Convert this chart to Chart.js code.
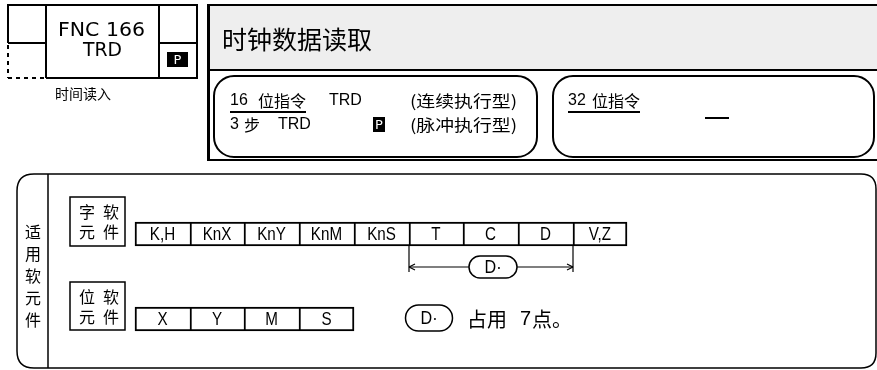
<!DOCTYPE html>
<html>
<head>
<meta charset="utf-8">
<script src="https://cdn.jsdelivr.net/npm/chart.js@4"></script>
<style>
  html, body { margin: 0; padding: 0; background: #fff; }
  #chart { display: block; }
</style>
</head>
<body>
<canvas id="chart" width="877" height="370"></canvas>
<script>
// instruction header
const instrNo = 'FNC 166';
const instrName = 'TRD';
const instrCaption = '时间读入';
const instrTitle = '时钟数据读取';
const line16 = ['16', '位指令', 'TRD', '(连续执行型)'];
const line16p = ['3', '步', 'TRD', '(脉冲执行型)'];
const line32 = ['32', '位指令', '—'];

// applicable devices
const sideLabel = ['适', '用', '软', '元', '件'];
const wordLabel = [['字', '软'], ['元', '件']];
const bitLabel = [['位', '软'], ['元', '件']];
const wordDevices = ['K,H', 'KnX', 'KnY', 'KnM', 'KnS', 'T', 'C', 'D', 'V,Z'];
const bitDevices = ['X', 'Y', 'M', 'S'];
const operandDevices = ['T', 'C', 'D'];
const operandLabel = 'D·';
const operandNote = ['占用', '7', '点。'];

// layout
const ROW_LEFT = 135;
const CELL_W = 54.7;
const ROW_H = 24;
const WORD_Y = 234;
const BIT_Y = 319;

const CJK = '"Noto Sans CJK SC", sans-serif';
const LATIN = '"DejaVu Sans", "Noto Sans CJK SC", sans-serif';
const ARIAL = '"Liberation Sans", Arial, sans-serif';

// one floating bar per device cell, laid out left to right
const cellBars = (devices, y) => devices.map((d, i) => ({
    x: [Math.round(ROW_LEFT + i * CELL_W), Math.round(ROW_LEFT + (i + 1) * CELL_W)],
    y: y
}));

const line = (ctx, x1, y1, x2, y2) => {
    ctx.beginPath();
    ctx.moveTo(x1, y1);
    ctx.lineTo(x2, y2);
    ctx.stroke();
};

const text = (ctx, s, x, y, font, align) => {
    ctx.font = font;
    ctx.textAlign = align || 'left';
    ctx.textBaseline = 'middle';
    ctx.fillText(s, x, y);
    return ctx.measureText(s).width;
};

// text stretched or squeezed to span a given width
const fitText = (ctx, s, x, y, font, width) => {
    ctx.font = font;
    const w = ctx.measureText(s).width;
    ctx.save();
    ctx.translate(x, y);
    ctx.scale(width / w, 1);
    text(ctx, s, 0, 0, font);
    ctx.restore();
};

// squeezed text for the narrow device labels
const narrow = (ctx, s, cx, cy, size, sx) => {
    ctx.save();
    ctx.translate(cx, cy);
    ctx.scale(sx, 1);
    text(ctx, s, 0, 0, size + 'px ' + ARIAL, 'center');
    ctx.restore();
};

const pill = (ctx, cx, cy, w, h) => {
    ctx.beginPath();
    ctx.roundRect(cx - w / 2, cy - h / 2, w, h, h / 2);
    ctx.fillStyle = '#fff';
    ctx.fill();
    ctx.stroke();
    ctx.fillStyle = '#000';
    narrow(ctx, operandLabel, cx, cy + 1, 19, 0.85);
};

const pBox = (ctx, x, y, w, h) => {
    ctx.fillStyle = '#000';
    ctx.fillRect(x, y, w, h);
    ctx.fillStyle = '#fff';
    text(ctx, 'P', x + w / 2, y + h / 2 + 1, (h - 2) + 'px "DejaVu Sans", sans-serif', 'center');
    ctx.fillStyle = '#000';
};

function drawHeader(ctx) {
    ctx.strokeStyle = '#000';
    ctx.fillStyle = '#000';

    // FNC box
    ctx.lineWidth = 2;
    line(ctx, 7, 5, 198, 5);
    line(ctx, 197, 5, 197, 78);
    line(ctx, 46, 78, 198, 78);
    line(ctx, 8, 4, 8, 43);
    line(ctx, 46, 5, 46, 78);
    line(ctx, 159, 5, 159, 78);
    line(ctx, 8, 43, 46, 43);
    line(ctx, 159, 43, 197, 43);
    ctx.setLineDash([4, 4]);
    line(ctx, 8, 45, 8, 78);
    line(ctx, 8, 78, 46, 78);
    ctx.setLineDash([]);
    fitText(ctx, instrNo, 58, 31, '19px ' + LATIN, 87);
    fitText(ctx, instrName, 83, 51, '19px ' + LATIN, 39);
    pBox(ctx, 167, 52, 21, 15);
    text(ctx, instrCaption, 55, 94, '14px ' + CJK);

    // title box
    ctx.fillStyle = '#eeeeee';
    ctx.fillRect(208, 5, 669, 65);
    ctx.fillStyle = '#000';
    ctx.lineWidth = 2;
    line(ctx, 207, 5, 877, 5);
    line(ctx, 208, 70, 877, 70);
    line(ctx, 207, 160, 877, 160);
    ctx.lineWidth = 3;
    line(ctx, 208.5, 4, 208.5, 161);
    text(ctx, instrTitle, 222, 39, '25px ' + CJK);

    // 16 bit / 32 bit boxes
    ctx.lineWidth = 2;
    ctx.beginPath();
    ctx.roundRect(214, 76, 323, 81, 20);
    ctx.stroke();
    ctx.beginPath();
    ctx.roundRect(553, 76, 321, 81, 20);
    ctx.stroke();

    const f = '16px ' + ARIAL;
    const c = '16px ' + CJK;
    text(ctx, line16[0], 230, 101, f);
    text(ctx, line16[1], 258, 101, c);
    line(ctx, 230, 112, 306, 112);
    text(ctx, line16[2], 329, 101, f);
    fitText(ctx, line16[3], 410, 101, c, 107);

    text(ctx, line16p[0], 230, 125, f);
    text(ctx, line16p[1], 244, 125, c);
    text(ctx, line16p[2], 278, 125, f);
    pBox(ctx, 373, 117, 12, 15);
    fitText(ctx, line16p[3], 410, 125, c, 107);

    text(ctx, line32[0], 568, 101, f);
    text(ctx, line32[1], 592, 101, c);
    line(ctx, 568, 112, 640, 112);
    line(ctx, 705, 118, 729, 118);
}

function drawDeviceFrame(ctx) {
    ctx.strokeStyle = '#000';
    ctx.fillStyle = '#000';
    ctx.lineWidth = 1.5;

    // outer frame with rounded corners
    ctx.beginPath();
    ctx.moveTo(34, 174);
    ctx.lineTo(861, 174);
    ctx.quadraticCurveTo(876, 174, 876, 189);
    ctx.lineTo(876, 353);
    ctx.quadraticCurveTo(876, 368, 861, 368);
    ctx.lineTo(34, 368);
    ctx.quadraticCurveTo(17, 368, 17, 351);
    ctx.lineTo(17, 191);
    ctx.quadraticCurveTo(17, 174, 34, 174);
    ctx.stroke();
    line(ctx, 48, 174, 48, 368);

    sideLabel.forEach((ch, i) => text(ctx, ch, 33, 232 + i * 22, '16px ' + CJK, 'center'));

    // word / bit device captions
    ctx.strokeRect(70, 197, 55, 49);
    ctx.strokeRect(70, 282, 55, 48);
    wordLabel.forEach((pair, r) => pair.forEach((ch, k) =>
        text(ctx, ch, 87 + k * 24, 212 + r * 20, '16px ' + CJK, 'center')));
    bitLabel.forEach((pair, r) => pair.forEach((ch, k) =>
        text(ctx, ch, 87 + k * 24, 297 + r * 20, '16px ' + CJK, 'center')));
}

function drawCellLabels(chart) {
    const ctx = chart.ctx;
    ctx.fillStyle = '#000';
    chart.data.datasets.forEach((ds, i) => {
        chart.getDatasetMeta(i).data.forEach((bar, j) => {
            narrow(ctx, ds.labels[j], (bar.x + bar.base) / 2, bar.y + 1, 19, 0.8);
        });
    });
}

function drawOperand(chart) {
    const ctx = chart.ctx;
    const bars = chart.getDatasetMeta(0).data;
    const first = bars[wordDevices.indexOf(operandDevices[0])];
    const last = bars[wordDevices.indexOf(operandDevices[operandDevices.length - 1])];
    const x1 = first.base;
    const x2 = last.x;
    const top = first.y + first.height / 2;
    const y = top + 21;
    const cx = (x1 + x2) / 2 + 2;

    ctx.strokeStyle = '#000';
    ctx.lineWidth = 1.2;
    line(ctx, x1, top, x1, y + 5);
    line(ctx, x2, top, x2, y + 5);
    line(ctx, x1, y, cx - 24, y);
    line(ctx, cx + 24, y, x2, y);
    // arrow heads
    line(ctx, x1, y, x1 + 6, y - 3);
    line(ctx, x1, y, x1 + 6, y + 3);
    line(ctx, x2, y, x2 - 6, y - 3);
    line(ctx, x2, y, x2 - 6, y + 3);
    ctx.lineWidth = 1.5;
    pill(ctx, cx, y, 48, 22);

    // note below the bit devices
    pill(ctx, 429, 318, 47, 26);
    const f = '20px ' + CJK;
    text(ctx, operandNote[0], 467, 319, f);
    text(ctx, operandNote[1], 520, 319, '20px ' + ARIAL);
    text(ctx, operandNote[2], 532, 319, f);
}

const diagramPlugin = {
    id: 'diagram',
    beforeDatasetsDraw(chart) {
        drawHeader(chart.ctx);
        drawDeviceFrame(chart.ctx);
    },
    afterDatasetsDraw(chart) {
        drawCellLabels(chart);
        drawOperand(chart);
    }
};

// left, top and bottom edges on every cell, right edge only on the last one
const cellBorder = (ctx) => {
    const n = ctx.dataset.data.length;
    return { top: 2, bottom: 2, left: 2, right: ctx.dataIndex === n - 1 ? 2 : 0 };
};

const cellStyle = {
    grouped: false,
    barThickness: ROW_H,
    maxBarThickness: ROW_H,
    backgroundColor: '#fff',
    borderColor: '#000',
    borderWidth: cellBorder,
    borderSkipped: false
};

const ctx = document.getElementById('chart').getContext('2d');
new Chart(ctx, {
    type: 'bar',
    data: {
        datasets: [
            Object.assign({ label: 'word', labels: wordDevices, data: cellBars(wordDevices, WORD_Y) }, cellStyle),
            Object.assign({ label: 'bit', labels: bitDevices, data: cellBars(bitDevices, BIT_Y) }, cellStyle)
        ]
    },
    options: {
        indexAxis: 'y',
        responsive: false,
        animation: false,
        events: [],
        layout: { padding: 0 },
        plugins: {
            colors: { enabled: false },
            legend: { display: false },
            tooltip: { enabled: false }
        },
        scales: {
            x: { type: 'linear', min: 0, max: 877, display: false },
            y: { type: 'linear', min: 0, max: 370, reverse: true, offset: false, display: false }
        }
    },
    plugins: [diagramPlugin]
});
</script>
</body>
</html>
